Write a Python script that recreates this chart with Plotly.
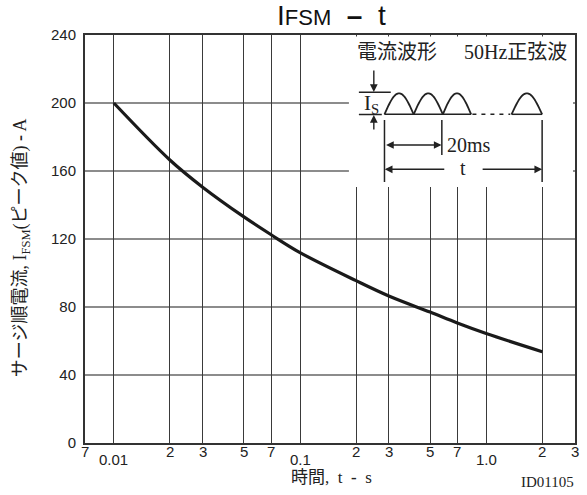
import numpy as np
import plotly.graph_objects as go

# ---- data ----
t_vals = [0.01, 0.02, 0.03, 0.05, 0.07, 0.1, 0.2, 0.3, 0.5, 0.7, 1.0, 2.0]
ifsm_vals = [200, 166.5, 150.5, 133, 122.5, 112, 95.5, 86.5, 77, 70.6, 64.4, 53.7]

x_grid = [0.01, 0.02, 0.03, 0.05, 0.07, 0.1, 0.2, 0.3, 0.5, 0.7, 1.0, 2.0]
x_tick_vals = [0.007, 0.01, 0.02, 0.03, 0.05, 0.07, 0.1, 0.2, 0.3, 0.5, 0.7, 1.0, 2.0, 3.0]
x_tick_text = ["7", "0.01", "2", "3", "5", "7", "0.1", "2", "3", "5", "7", "1.0", "2", "3"]
x_major = {"0.01", "0.1", "1.0"}
y_tick_vals = [0, 40, 80, 120, 160, 200, 240]

W, H = 587, 495
L, R, T, B = 85, 10, 35, 52
PW, PH = W - L - R, H - T - B

def px(x):
    return (x - L) / PW

def py(y):
    return (H - B - y) / PH

SANS = "Liberation Sans, Arial, sans-serif"
SERIF = "Liberation Serif, Noto Sans CJK JP, serif"

fig = go.Figure()
fig.add_trace(go.Scatter(x=t_vals, y=ifsm_vals, mode="lines",
                         line=dict(color="#1a1a1a", width=3.2, shape="spline", smoothing=1.0),
                         hoverinfo="skip", showlegend=False))

shapes = []
for v in y_tick_vals[1:-1]:
    shapes.append(dict(type="line", xref="paper", yref="y", x0=0, x1=1, y0=v, y1=v,
                       line=dict(color="#8c8c8c", width=2), layer="below"))

fig.update_layout(
    width=W, height=H, margin=dict(l=L, r=R, t=T, b=B),
    paper_bgcolor="white", plot_bgcolor="white",
    showlegend=False,
    xaxis=dict(type="log", range=[np.log10(0.007), np.log10(3.0)],
               tickvals=x_grid, showticklabels=False, ticks="",
               showgrid=True, gridcolor="#3a3a3a", gridwidth=1.2,
               showline=True, linecolor="#333", linewidth=2, mirror=True,
               zeroline=False),
    yaxis=dict(range=[0, 240], tickvals=y_tick_vals, showgrid=False,
               ticks="", ticklen=0,
               tickfont=dict(family=SANS, size=15, color="#222"),
               showline=True, linecolor="#333", linewidth=2, mirror=True,
               zeroline=False, ticklabelstandoff=4),
)

ann = []
for v, s in zip(x_tick_vals, x_tick_text):
    yy = 459 if s in x_major else 452
    ann.append(dict(x=np.log10(v), y=py(yy), xref="x", yref="paper", text=s,
                    showarrow=False, xanchor="center", yanchor="middle",
                    font=dict(family=SANS, size=15, color="#222")))

# title
ann.append(dict(x=px(333), y=py(16), xref="paper", yref="paper", showarrow=False,
                xanchor="center", yanchor="middle",
                text="I<span style='font-size:22px'>FSM</span>  <b>–</b>  t",
                font=dict(family=SANS, size=28, color="#111")))

# axis titles
ann.append(dict(x=px(333), y=py(478), xref="paper", yref="paper", showarrow=False,
                text="時間,  t  <b>-</b>  s", xanchor="center", yanchor="middle",
                font=dict(family=SERIF, size=17, color="#222")))
ann.append(dict(x=px(549), y=py(482), xref="paper", yref="paper", showarrow=False,
                text="ID01105", xanchor="center", yanchor="middle",
                font=dict(family=SERIF, size=15, color="#222")))
ann.append(dict(x=px(22), y=py(248), xref="paper", yref="paper", showarrow=False,
                text="サージ順電流, I<sub>FSM</sub>(ピーク値) <b>-</b> A", textangle=-90,
                xanchor="center", yanchor="middle",
                font=dict(family=SERIF, size=18, color="#222")))

# ---- inset waveform drawing ----
shapes.append(dict(type="rect", xref="paper", yref="paper", x0=px(350), x1=px(575),
                   y0=py(187), y1=py(36.5), fillcolor="white", line=dict(width=0), layer="above"))
LN = dict(color="#222", width=1.5)
def seg(x0, y0, x1, y1, dash=None):
    d = dict(LN)
    if dash:
        d["dash"] = dash
    shapes.append(dict(type="line", xref="paper", yref="paper", x0=px(x0), y0=py(y0),
                       x1=px(x1), y1=py(y1), line=d, layer="above"))

seg(360, 92.3, 392, 92.3)
seg(360, 114.5, 383, 114.5)
base = 114.3
seg(385.7, base, 472.7, base)
seg(474, base, 512, base, dash="4px,5px")
seg(513.3, base, 544, base)
for a, b in [(385.7, 415), (415, 444.3), (444.3, 472.7), (513.3, 544)]:
    th = np.linspace(0, np.pi, 30)
    xs = a + (b - a) * th / np.pi
    ys = base - 21 * np.sin(th)
    path = "M " + " L ".join(f"{px(xx):.5f},{py(yy):.5f}" for xx, yy in zip(xs, ys))
    shapes.append(dict(type="path", xref="paper", yref="paper", path=path,
                       line=dict(color="#222", width=1.8), layer="above"))
seg(385.7, 120, 385.7, 182)
seg(443.3, 120, 443.3, 155)
seg(544, 120, 544, 182)

def arrow(hx, hy, tx, ty, side="end"):
    ann.append(dict(x=px(hx), y=py(hy), xref="paper", yref="paper", text="",
                    showarrow=True, ax=tx - hx, ay=ty - hy, axref="pixel", ayref="pixel",
                    arrowhead=2, arrowsize=1.1, arrowwidth=1.4, arrowcolor="#222",
                    arrowside=side, standoff=0, startstandoff=0))

arrow(375, 92, 375, 69)
arrow(375, 115, 375, 131)
arrow(443, 145, 386, 145, side="end+start")
arrow(386, 169.3, 447, 169.3)
arrow(544, 169.3, 483, 169.3)

def txt(x, y, s, anchor="center", size=20):
    ann.append(dict(x=px(x), y=py(y), xref="paper", yref="paper", text=s, showarrow=False,
                    xanchor=anchor, yanchor="middle",
                    font=dict(family=SERIF, size=size, color="#222")))

txt(398.5, 51.7, "電流波形")
txt(517.5, 51.7, "50Hz正弦波")
txt(363, 104, "I<sub>S</sub>", anchor="left", size=21)
txt(446, 145, "20ms", anchor="left")
txt(465, 168, "t")

fig.update_layout(shapes=shapes, annotations=ann)
fig.write_html("out.html")
